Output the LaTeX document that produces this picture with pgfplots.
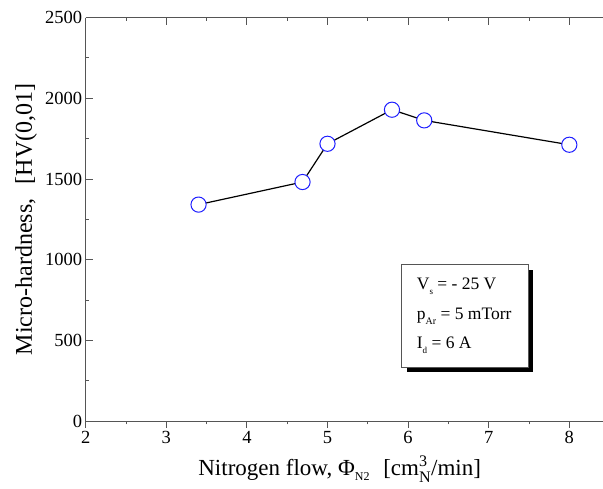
\documentclass[border=0pt]{standalone}
\usepackage{fontspec}
\setmainfont{Liberation Serif}
\usepackage{pgfplots}
\pgfplotsset{compat=1.18}

\definecolor{axgray}{RGB}{85,85,85}
\definecolor{markblue}{RGB}{30,30,255}

\pgfplotsset{
  base/.style={
    scale only axis,
    width=517.3pt, height=403.4pt,
    xmin=2, xmax=8.418, ymin=0, ymax=2500,
    xtick={2,3,...,8}, minor x tick num=1,
    ytick={0,500,...,2500}, minor y tick num=1,
    major tick length=7pt, minor tick length=3.5pt,
    every tick/.style={axgray, line width=0.9pt},
    axis line style={axgray, line width=0.9pt},
    /pgf/number format/assume math mode=true,
    tick label style={font=\fontsize{18.5}{18.5}\selectfont, black},
    /pgf/number format/1000 sep={},
    clip=false,
  },
}

\begin{document}
\begin{tikzpicture}
% bottom x axis, ticks outward, with the data
\begin{axis}[base, axis x line*=bottom, tick align=outside, hide y axis]
  \addplot[black, line width=1.2pt, mark=*, mark size=7.6pt,
    mark options={draw=markblue, fill=white, line width=1pt}]
    coordinates {
      (3.40,1341)
      (4.69,1481)
      (5.00,1718)
      (5.80,1929)
      (6.20,1863)
      (8.00,1712)
    };
\end{axis}
% left y axis, ticks inward
\begin{axis}[base, axis y line*=left, tick align=inside, hide x axis]
\end{axis}
% top x axis, ticks inward, no labels
\begin{axis}[base, axis x line*=top, tick align=inside, hide y axis, xticklabels={}]
\end{axis}

% axis labels
\node[anchor=base, font=\fontsize{23}{23}\selectfont] at (254pt,-55pt)
  {Nitrogen flow, Φ\raisebox{-5pt}{\fontsize{12}{12}\selectfont N2}\hspace{0.6em}[cm$^{\mathrm{3}}_{\mathrm{N}}$/min]};
\node[rotate=90, anchor=base, font=\fontsize{24}{24}\selectfont] at (-53.7pt,201.7pt)
  {Micro-hardness,\hspace{0.6em}[HV(0,01]};

% info box with shadow
\fill[black] (320.8pt,48.5pt) rectangle (447.6pt,151pt);
\draw[axgray, line width=0.8pt, fill=white] (315.3pt,54pt) rectangle (442.3pt,157pt);
\node[anchor=base west, inner sep=0pt, font=\fontsize{17.5}{17.5}\selectfont] at (331pt,131pt)
  {V\raisebox{-4.5pt}{\fontsize{9}{9}\selectfont s} = - 25 V};
\node[anchor=base west, inner sep=0pt, font=\fontsize{17.5}{17.5}\selectfont] at (331pt,101pt)
  {p\raisebox{-4.5pt}{\fontsize{10}{10}\selectfont Ar} = 5 mTorr};
\node[anchor=base west, inner sep=0pt, font=\fontsize{17.5}{17.5}\selectfont] at (331pt,72pt)
  {I\raisebox{-4.5pt}{\fontsize{9}{9}\selectfont d} = 6 A};

\pgfresetboundingbox
\useasboundingbox (-85.7pt,-68pt) rectangle (517.3pt,421pt);
\end{tikzpicture}
\end{document}
